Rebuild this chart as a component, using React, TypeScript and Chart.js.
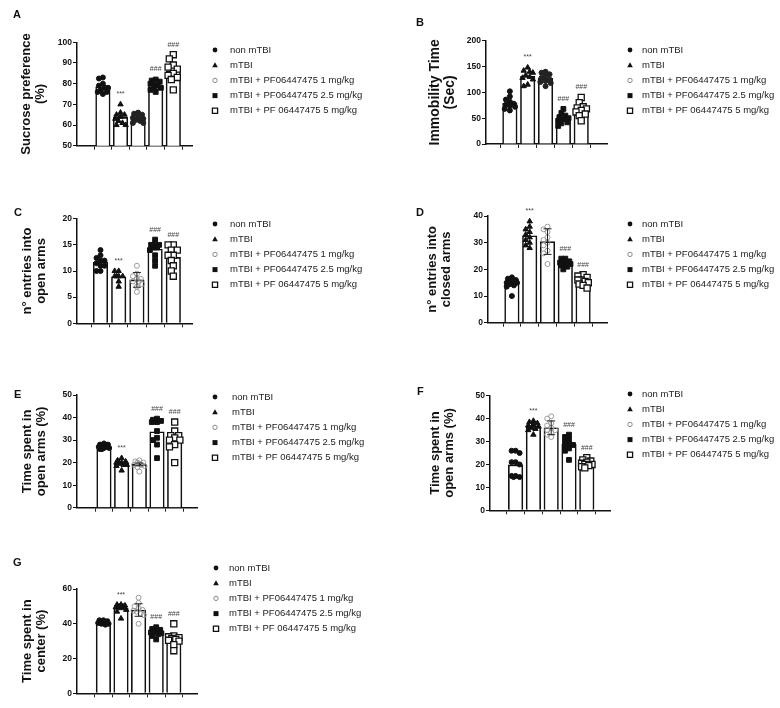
import React, { useEffect, useRef } from "react";
import { Chart, registerables } from "chart.js";

Chart.register(...registerables);

const FONT = "'Liberation Sans', Arial, Helvetica, sans-serif";

const GROUP_LABELS = [
  "non mTBI",
  "mTBI",
  "mTBI + PF06447475 1 mg/kg",
  "mTBI + PF06447475 2.5 mg/kg",
  "mTBI + PF 06447475 5 mg/kg",
];
const SIG = ["", "***", "", "###", "###"];

// ---- Panel A: sucrose preference
const A_TITLE = ["Sucrose preference", "(%)"];
const A_TICKS = [50, 60, 70, 80, 90, 100];
const A_MEANS = [78.5, 63.7, 63.5, 79.4, 86.1];
const A_SEM = [0, 0, 0, 0, 0];
const A_POINTS = [
  [83, 82.5, 80, 79, 78, 78, 77, 76, 76, 75],
  [70, 66, 65, 65, 64, 63, 62, 60, 60, 61],
  [66, 65.5, 65, 64, 63.5, 63, 62.5, 62, 61, 61],
  [82, 81.5, 81, 80.5, 80, 79, 78.5, 78, 77, 76],
  [94, 92, 89, 88, 87, 85, 84, 83, 82, 77],
];

// ---- Panel B: immobility time
const B_TITLE = ["Immobility Time", "(Sec)"];
const B_TICKS = [0, 50, 100, 150, 200];
const B_MEANS = [79, 131, 127, 49.5, 66];
const B_SEM = [0, 0, 0, 0, 0];
const B_POINTS = [
  [102, 92, 86, 82, 78, 76, 74, 72, 68, 65],
  [148, 142, 140, 138, 133, 130, 128, 125, 115, 112],
  [140, 138, 135, 132, 128, 125, 122, 120, 118, 112],
  [68, 60, 55, 52, 50, 48, 45, 42, 40, 35],
  [90, 80, 72, 70, 68, 65, 62, 58, 55, 45],
];

// ---- Panel C: entries into open arms
const C_TITLE = ["n° entries into", "open arms"];
const C_TICKS = [0, 5, 10, 15, 20];
const C_MEANS = [11.7, 8.9, 8.3, 14.2, 12.6];
const C_SEM = [0, 0, 1.4, 0, 0];
const C_POINTS = [
  [14, 13, 12.5, 12, 12, 11.5, 11, 11, 10, 10],
  [10, 10, 9, 9, 9, 9, 8, 7],
  [11, 9.5, 9, 8.5, 8.5, 8, 8, 7.5, 7, 6],
  [16, 15, 15, 15, 14.5, 14.5, 14, 13, 12, 11],
  [15, 15, 14, 14, 13, 13, 12, 11, 10, 9],
];

// ---- Panel D: entries into closed arms
const D_TITLE = ["n° entries into", "closed arms"];
const D_TICKS = [0, 10, 20, 30, 40];
const D_MEANS = [15, 32.6, 30.4, 22.3, 15.6];
const D_SEM = [0, 0, 4.8, 0, 0];
const D_POINTS = [
  [17, 16.5, 16, 15.5, 15, 15, 14.5, 14, 13.5, 10],
  [38, 36, 35, 34, 33, 32, 31, 30, 29, 28],
  [36, 35, 34, 32, 31, 30, 29, 27, 26, 22],
  [24, 24, 23, 23, 22.5, 22, 22, 21.5, 21, 20],
  [18, 17.5, 17, 16, 16, 15.5, 15, 14.5, 14, 13],
];

// ---- Panel E: time spent in open arms
const E_TITLE = ["Time spent in", "open arms (%)"];
const E_TICKS = [0, 10, 20, 30, 40, 50];
const E_MEANS = [27.1, 19.7, 19.2, 33.7, 30];
const E_SEM = [0, 0, 0.6, 0, 0];
const E_POINTS = [
  [28.5, 28, 28, 27.5, 27, 27, 26.5, 26.5, 26, 26],
  [22, 21, 20.5, 20, 20, 19.5, 19, 19, 18.5, 16.5],
  [21, 20.5, 20, 20, 19.5, 19, 19, 18.5, 18, 16],
  [39.5, 39, 38.5, 38, 38, 34, 31, 30, 28, 22],
  [38, 34, 32, 32, 31, 30, 30, 28, 27, 20],
];

// ---- Panel F: time spent in open arms
const F_TITLE = ["Time spent in", "open arms (%)"];
const F_TICKS = [0, 10, 20, 30, 40, 50];
const F_MEANS = [19.8, 36.6, 36, 28.8, 20.5];
const F_SEM = [0, 0, 3, 0, 0];
const F_POINTS = [
  [26, 26, 25, 21, 21, 20, 15, 15, 14.5, 14.5],
  [39, 38.5, 38, 37.5, 37, 36.5, 36, 35.5, 35, 33],
  [41, 40, 38, 37, 36, 35, 35, 34, 33, 32],
  [33, 32, 31, 30, 29, 28.5, 28, 27, 26, 22],
  [23, 22, 21.5, 21, 20.5, 20, 20, 19.5, 19, 18.5],
];

// ---- Panel G: time spent in center
const G_TITLE = ["Time spent in", "center (%)"];
const G_TICKS = [0, 20, 40, 60];
const G_MEANS = [40.8, 49, 47.9, 35, 31.8];
const G_SEM = [0, 0, 3.6, 0, 0];
const G_POINTS = [
  [42, 42, 41.5, 41, 41, 40.5, 40.5, 40, 40, 39.5],
  [51, 51, 50.5, 50, 50, 49.5, 49, 48, 47, 43],
  [55, 52, 50, 49, 48, 47.5, 47, 46, 45, 40],
  [38, 37, 36.5, 36, 35, 35, 34.5, 34, 33, 31],
  [40, 33, 32.5, 32, 31.5, 31, 30.5, 30, 28, 24.5],
];

const PANELS = [
  { key: "A", title: A_TITLE, ticks: A_TICKS, means: A_MEANS, sem: A_SEM, points: A_POINTS, g3Filled: true, titleSize: 13,
    letter: [13, 9], canvas: [0, 0, 390, 160], axisX: 77, axisEnd: 192, axisTop: 42.3, axisBottom: 145.7, first: 95, step: 22, titleX: 26, legend: [215, 50, 230] },
  { key: "B", title: B_TITLE, ticks: B_TICKS, means: B_MEANS, sem: B_SEM, points: B_POINTS, g3Filled: true, titleSize: 14,
    letter: [416, 17], canvas: [390, 0, 390, 160], axisX: 486, axisEnd: 607, axisTop: 40.7, axisBottom: 144, first: 500.7, step: 22.3, titleX: 435, legend: [630, 50, 642] },
  { key: "C", title: C_TITLE, ticks: C_TICKS, means: C_MEANS, sem: C_SEM, points: C_POINTS, g3Filled: false, titleSize: 13,
    letter: [14, 207], canvas: [0, 160, 390, 170], axisX: 77, axisEnd: 192, axisTop: 218.7, axisBottom: 323.3, first: 92, step: 22.75, titleX: 27, legend: [215, 224, 230] },
  { key: "D", title: D_TITLE, ticks: D_TICKS, means: D_MEANS, sem: D_SEM, points: D_POINTS, g3Filled: false, titleSize: 13,
    letter: [416, 207], canvas: [390, 160, 390, 170], axisX: 488, axisEnd: 607, axisTop: 216, axisBottom: 322.7, first: 503, step: 22.25, titleX: 432, legend: [630, 224, 642] },
  { key: "E", title: E_TITLE, ticks: E_TICKS, means: E_MEANS, sem: E_SEM, points: E_POINTS, g3Filled: false, titleSize: 13,
    letter: [14, 389], canvas: [0, 330, 390, 190], axisX: 77, axisEnd: 197, axisTop: 395, axisBottom: 507.7, first: 95.7, step: 22.1, titleX: 27, legend: [215, 397, 232] },
  { key: "F", title: F_TITLE, ticks: F_TICKS, means: F_MEANS, sem: F_SEM, points: F_POINTS, g3Filled: false, titleSize: 13,
    letter: [417, 386], canvas: [390, 330, 390, 190], axisX: 490, axisEnd: 610, axisTop: 395.7, axisBottom: 510.3, first: 507, step: 22.25, titleX: 435, legend: [630, 394, 642] },
  { key: "G", title: G_TITLE, ticks: G_TICKS, means: G_MEANS, sem: G_SEM, points: G_POINTS, g3Filled: false, titleSize: 13,
    letter: [13, 557], canvas: [0, 520, 390, 188], axisX: 77, axisEnd: 197, axisTop: 589, axisBottom: 693.3, first: 95, step: 22, titleX: 27, legend: [216, 568, 229] },
];

// Layout helper: compact beeswarm placement (pixel offsets) so dots overlap little
const CANDIDATES = [0, -2.5, 2.5, -5, 5, -6.5, 6.5];
function swarmOffsets(vals: number[], pxPerUnitY: number, minDist: number): number[] {
  const order = vals.map((_, i) => i).sort((a, b) => vals[b] - vals[a]);
  const offs = new Array(vals.length).fill(0);
  const placed: { x: number; y: number }[] = [];
  for (const idx of order) {
    const y = vals[idx] * pxPerUnitY;
    let best = 0;
    let bestScore = -Infinity;
    for (const c of CANDIDATES) {
      let dmin = Infinity;
      for (const q of placed) dmin = Math.min(dmin, Math.hypot(q.x - c, q.y - y));
      if (dmin >= minDist) {
        best = c;
        bestScore = Infinity;
        break;
      }
      if (dmin > bestScore) {
        bestScore = dmin;
        best = c;
      }
    }
    offs[idx] = best;
    placed.push({ x: best, y });
  }
  return offs;
}

function markerStyles(g3Filled: boolean) {
  return [
    { pointStyle: "circle", radius: 2.5, bg: "#111", border: "#111", bw: 1, gap: 4.5 },
    { pointStyle: "triangle", radius: 3.1, bg: "#111", border: "#111", bw: 1, gap: 4.5 },
    g3Filled
      ? { pointStyle: "circle", radius: 2.5, bg: "#222", border: "#222", bw: 1, gap: 4.5 }
      : { pointStyle: "circle", radius: 2.5, bg: "rgba(255,255,255,0)", border: "#9a9a9a", bw: 1, gap: 4.5 },
    { pointStyle: "rect", radius: 3.4, bg: "#111", border: "#111", bw: 1, gap: 4.5 },
    { pointStyle: "rect", radius: 4.3, bg: "#fff", border: "#111", bw: 1.3, gap: 5.5 },
  ];
}

function drawLegendMarker(ctx: CanvasRenderingContext2D, i: number, x: number, y: number) {
  ctx.save();
  ctx.lineWidth = 1;
  ctx.beginPath();
  if (i === 0) {
    ctx.fillStyle = "#111";
    ctx.arc(x, y, 2.4, 0, Math.PI * 2);
    ctx.fill();
  } else if (i === 1) {
    ctx.fillStyle = "#111";
    ctx.moveTo(x, y - 3);
    ctx.lineTo(x + 2.8, y + 2);
    ctx.lineTo(x - 2.8, y + 2);
    ctx.closePath();
    ctx.fill();
  } else if (i === 2) {
    ctx.strokeStyle = "#8a8a8a";
    ctx.arc(x, y, 2.2, 0, Math.PI * 2);
    ctx.stroke();
  } else if (i === 3) {
    ctx.fillStyle = "#111";
    ctx.rect(x - 2.5, y - 2.5, 5, 5);
    ctx.fill();
  } else {
    ctx.strokeStyle = "#111";
    ctx.lineWidth = 1.3;
    ctx.rect(x - 2.6, y - 2.6, 5.2, 5.2);
    ctx.stroke();
  }
  ctx.restore();
}

function makeDecor(p: any) {
  const [cl, ct] = p.canvas;
  return {
    id: "decor" + p.key,
    afterDatasetsDraw(chart: any) {
      const ctx = chart.ctx as CanvasRenderingContext2D;
      const xs = chart.scales.x;
      const ys = chart.scales.y;
      ctx.save();
      ctx.strokeStyle = "#222";
      ctx.lineWidth = 1;
      p.means.forEach((m: number, i: number) => {
        const s = p.sem[i];
        if (!s) return;
        const cx = xs.getPixelForValue(i);
        const y1 = ys.getPixelForValue(m + s);
        const y2 = ys.getPixelForValue(m - s);
        ctx.beginPath();
        ctx.moveTo(cx, y1);
        ctx.lineTo(cx, y2);
        ctx.moveTo(cx - 4, y1);
        ctx.lineTo(cx + 4, y1);
        ctx.moveTo(cx - 4, y2);
        ctx.lineTo(cx + 4, y2);
        ctx.stroke();
      });
      ctx.fillStyle = "#444";
      ctx.font = `7px ${FONT}`;
      ctx.textAlign = "center";
      ctx.textBaseline = "middle";
      SIG.forEach((t, i) => {
        if (!t) return;
        const top = Math.max(...p.points[i], p.means[i] + p.sem[i]);
        ctx.fillText(t, xs.getPixelForValue(i), ys.getPixelForValue(top) - 10);
      });
      ctx.restore();
    },
    afterDraw(chart: any) {
      const ctx = chart.ctx as CanvasRenderingContext2D;
      const [lx, ly, tx] = p.legend;
      ctx.save();
      chart.data.datasets.slice(0, 5).forEach((ds: any, i: number) => {
        const y = ly - ct + i * 15.2;
        drawLegendMarker(ctx, i, lx - cl, y);
        ctx.fillStyle = "#222";
        ctx.font = `9.5px ${FONT}`;
        ctx.textAlign = "left";
        ctx.textBaseline = "middle";
        ctx.fillText(ds.label, tx - cl, y);
      });
      ctx.restore();
    },
  };
}

function Panel({ p }: { p: any }) {
  const ref = useRef<HTMLCanvasElement | null>(null);
  useEffect(() => {
    if (!ref.current) return;
    const [cl, ct, cw, ch] = p.canvas;
    const lineH = 1.1;
    const padLeft = p.titleX - cl - (p.titleSize * lineH) / 2;
    const yWidth = p.axisX - cl - padLeft;
    const xH = 6;
    const padding = {
      left: padLeft,
      top: p.axisTop - ct,
      right: cw - (p.axisEnd - cl),
      bottom: ch - (p.axisBottom - ct) - xH,
    };
    const xmin = -(p.first - p.axisX) / p.step;
    const xmax = 4 + (p.axisEnd - (p.first + 4 * p.step)) / p.step;
    const ymin = p.ticks[0];
    const ymax = p.ticks[p.ticks.length - 1];
    const pxPerUnitY = (p.axisBottom - p.axisTop) / (ymax - ymin);
    const styles = markerStyles(p.g3Filled);

    const pointSets = p.points.map((vals: number[], g: number) => {
      const offs = swarmOffsets(vals, pxPerUnitY, styles[g].gap);
      return {
        type: "scatter",
        label: GROUP_LABELS[g],
        data: vals.map((v, j) => ({ x: g + offs[j] / p.step, y: v })),
        pointStyle: styles[g].pointStyle,
        pointRadius: styles[g].radius,
        backgroundColor: styles[g].bg,
        borderColor: styles[g].border,
        pointBorderWidth: styles[g].bw,
        showLine: false,
        clip: false,
        order: 1,
      };
    });

    const chart = new Chart(ref.current, {
      type: "bar",
      data: {
        datasets: [
          ...pointSets,
          {
            type: "bar",
            label: "mean",
            data: p.means.map((m: number, i: number) => ({ x: i, y: m })),
            backgroundColor: "#ffffff",
            borderColor: "#111",
            borderWidth: 1.6,
            barThickness: 14.5,
            order: 10,
          },
        ],
      } as any,
      options: {
        responsive: false,
        animation: false,
        devicePixelRatio: 1,
        events: [],
        layout: { padding },
        plugins: { legend: { display: false }, tooltip: { enabled: false } },
        scales: {
          x: {
            type: "linear",
            min: xmin,
            max: xmax,
            afterBuildTicks: (s: any) => {
              s.ticks = [0, 1, 2, 3, 4].map((v) => ({ value: v }));
            },
            afterFit: (s: any) => {
              s.height = xH;
            },
            ticks: { display: false },
            grid: { drawOnChartArea: false, drawTicks: true, tickLength: 4, color: "#222", lineWidth: 1 },
            border: { display: true, color: "#111", width: 1.5 },
          },
          y: {
            type: "linear",
            min: ymin,
            max: ymax,
            afterBuildTicks: (s: any) => {
              s.ticks = p.ticks.map((v: number) => ({ value: v }));
            },
            afterFit: (s: any) => {
              s.width = yWidth;
            },
            ticks: { font: { family: FONT, size: 8.5, weight: "bold" }, color: "#111", padding: 1 },
            grid: { drawOnChartArea: false, drawTicks: true, tickLength: 4, color: "#111", lineWidth: 1 },
            border: { display: true, color: "#111", width: 1.5 },
            title: {
              display: true,
              text: p.title,
              color: "#111",
              padding: 0,
              font: { family: FONT, size: p.titleSize, weight: "bold", lineHeight: lineH },
            },
          },
        },
      } as any,
      plugins: [makeDecor(p)],
    });
    return () => chart.destroy();
  }, [p]);

  const [cl, ct, cw, ch] = p.canvas;
  return (
    <>
      <canvas
        ref={ref}
        width={cw}
        height={ch}
        style={{ position: "absolute", left: cl, top: ct, width: cw, height: ch }}
      />
      <div
        style={{
          position: "absolute",
          left: p.letter[0],
          top: p.letter[1],
          fontFamily: FONT,
          fontWeight: "bold",
          fontSize: 11,
          lineHeight: 1,
          color: "#111",
        }}
      >
        {p.key}
      </div>
    </>
  );
}

export default function App() {
  return (
    <div style={{ position: "absolute", left: 0, top: 0, width: 780, height: 708, background: "#fff", overflow: "hidden" }}>
      {PANELS.map((p) => (
        <Panel key={p.key} p={p} />
      ))}
    </div>
  );
}
